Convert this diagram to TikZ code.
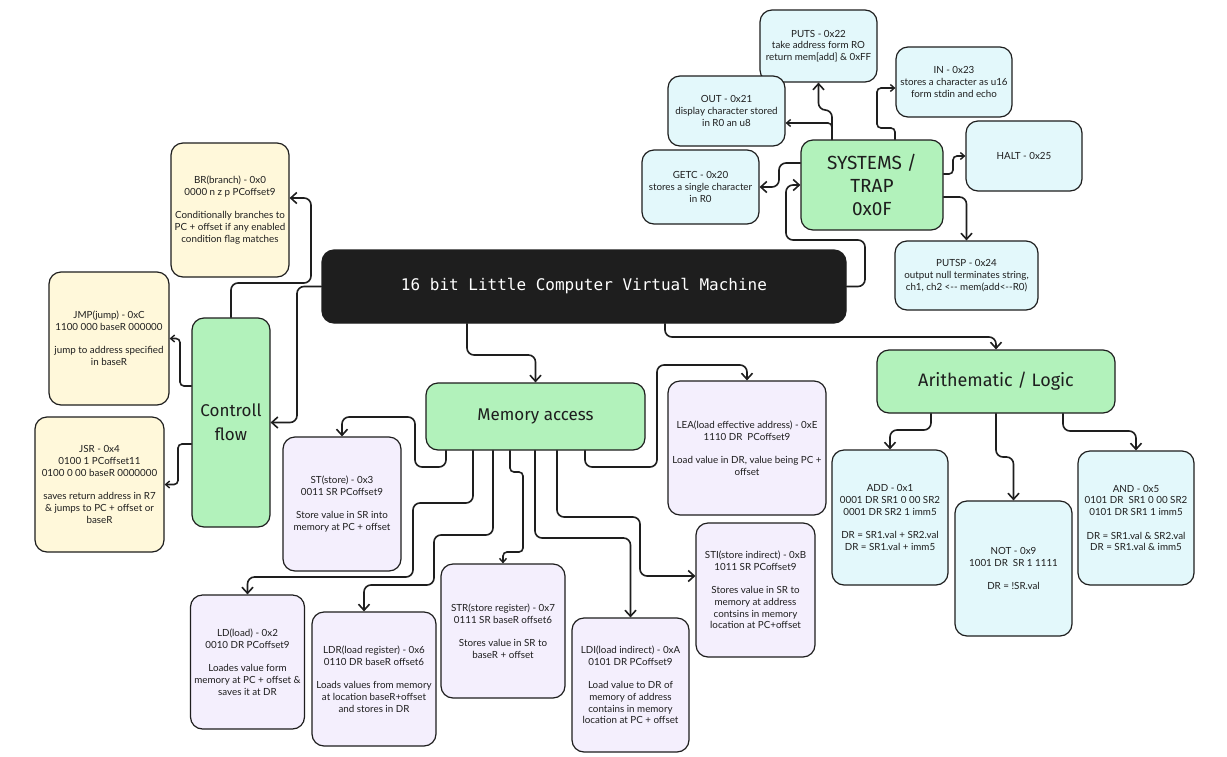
\documentclass[tikz,border=0pt]{standalone}
\usepackage{fontspec}
\setmainfont{Lato}
\newfontfamily\codefont{DejaVu Sans Mono}
\newfontfamily\handfont{Fira Sans}
\usetikzlibrary{arrows.meta}
\definecolor{ink}{HTML}{1E1E1E}
\definecolor{cyellow}{HTML}{FFF8DA}
\definecolor{cblue}{HTML}{E3F8FB}
\definecolor{cpurple}{HTML}{F4EFFD}
\definecolor{cgreen}{HTML}{B2F2BB}
\tikzset{
  box/.style={draw=ink, line width=1.2pt, rounded corners=12pt, align=center, text=ink,
    font=\fontsize{9.8}{11.7}\selectfont, inner sep=1pt},
  ybox/.style={box, fill=cyellow},
  bbox/.style={box, fill=cblue},
  pbox/.style={box, fill=cpurple},
  gbox/.style={box, fill=cgreen, font=\handfont\fontsize{17}{24}\selectfont},
  titlebox/.style={box, fill=ink, text=white, font=\codefont\fontsize{16}{20}\selectfont},
  conn/.style={draw=ink, line width=1.6pt, rounded corners=7pt, line cap=round,
    -{Straight Barb[length=6pt,width=11pt,line width=1.6pt]}},
  sconn/.style={conn, rounded corners=4pt, -{Straight Barb[length=4pt,width=7pt,line width=1.4pt]}}
}
\begin{document}
\begin{tikzpicture}[x=1pt,y=-1pt]
\path[fill=white] (0,0) rectangle (1227,756);
\useasboundingbox (0,0) rectangle (1227,756);

% main
\node[titlebox, minimum width=524pt, minimum height=73pt] (main) at (584,286.5) {16 bit Little Computer Virtual Machine};

% systems
\node[gbox, font=\handfont\fontsize{19}{23}\selectfont, minimum width=142pt, minimum height=90pt] (sys) at (872,185) {SYSTEMS /\\TRAP\\0x0F};
\node[bbox, minimum width=117pt, minimum height=72pt] (puts) at (818.5,46) {PUTS - 0x22\\take address form RO\\return mem[add] \& 0xFF};
\node[bbox, minimum width=117pt, minimum height=70pt] (out) at (726.5,111) {OUT - 0x21\\display character stored\\in R0 an u8};
\node[bbox, minimum width=117pt, minimum height=74pt] (getc) at (700.5,187) {GETC - 0x20\\stores a single character\\in R0};
\node[bbox, minimum width=116pt, minimum height=70pt] (in) at (954,82) {IN - 0x23\\stores a character as u16\\form stdin and echo};
\node[bbox, minimum width=116pt, minimum height=70pt] (halt) at (1024,156) {HALT - 0x25};
\node[bbox, minimum width=143pt, minimum height=69pt] (putsp) at (966.5,275.5) {PUTSP - 0x24\\output null terminates string,\\ch1, ch2 <-{}- mem(add<-{}-R0)};

% control flow
\node[gbox, minimum width=78pt, minimum height=209pt] (ctrl) at (231,422.5) {Controll\\flow};
\node[ybox, minimum width=118pt, minimum height=134pt] (br) at (230,210) {BR(branch) - 0x0\\0000 n z p PCoffset9\\[11.7pt]Conditionally branches to\\PC + offset if any enabled\\condition flag matches};
\node[ybox, minimum width=120pt, minimum height=133pt] (jmp) at (109,338.5) {JMP(jump) - 0xC\\1100 000 baseR 000000\\[11.7pt]jump to address specified\\in baseR};
\node[ybox, minimum width=129pt, minimum height=135pt] (jsr) at (99.5,484.5) {JSR - 0x4\\0100 1 PCoffset11\\0100 0 00 baseR 0000000\\[11.7pt]saves return address in R7\\\& jumps to PC + offset or\\baseR};

% memory access
\node[gbox, minimum width=219pt, minimum height=67pt] (mem) at (535.5,416.5) {Memory access};
\node[pbox, minimum width=118pt, minimum height=134pt] (st) at (342,504) {ST(store) - 0x3\\0011 SR PCoffset9\\[11.7pt]Store value in SR into\\memory at PC + offset};
\node[pbox, minimum width=158pt, minimum height=134pt] (lea) at (747,448) {LEA(load effective address) - 0xE\\1110 DR\ \ PCoffset9\\[11.7pt]Load value in DR, value being PC +\\offset};
\node[pbox, minimum width=119pt, minimum height=134pt] (sti) at (755.5,590) {STI(store indirect) - 0xB\\1011 SR PCoffset9\\[11.7pt]Stores value in SR to\\memory at address\\contsins in memory\\location at PC+offset};
\node[pbox, minimum width=114pt, minimum height=134pt] (ld) at (247.5,662) {LD(load) - 0x2\\0010 DR PCoffset9\\[11.7pt]Loades value form\\memory at PC + offset \&\\saves it at DR};
\node[pbox, minimum width=124pt, minimum height=134pt] (ldr) at (374,679) {LDR(load register) - 0x6\\0110 DR baseR offset6\\[11.7pt]Loads values from memory\\at location baseR+offset\\and stores in DR};
\node[pbox, minimum width=124pt, minimum height=134pt] (str) at (503,631) {STR(store register) - 0x7\\0111 SR baseR offset6\\[11.7pt]Stores value in SR to\\baseR + offset};
\node[pbox, minimum width=117pt, minimum height=134pt] (ldi) at (630.5,685) {LDI(load indirect) - 0xA\\0101 DR PCoffset9\\[11.7pt]Load value to DR of\\memory of address\\contains in memory\\location at PC + offset};

% arithmetic
\node[gbox, font=\handfont\fontsize{18}{24}\selectfont, minimum width=238pt, minimum height=63pt] (arith) at (996,381.5) {Arithematic / Logic};
\node[bbox, minimum width=116pt, minimum height=135pt] (add) at (890,517.5) {ADD - 0x1\\0001 DR SR1 0 00 SR2\\0001 DR SR2 1 imm5\\[11.7pt]DR = SR1.val + SR2.val\\DR = SR1.val + imm5};
\node[bbox, minimum width=117pt, minimum height=135pt] (notn) at (1013.5,568.5) {NOT - 0x9\\1001 DR\ \ SR 1 1111\\[11.7pt]DR = !SR.val};
\node[bbox, minimum width=116pt, minimum height=134pt] (andn) at (1136,518) {AND - 0x5\\0101 DR\ \ SR1 0 00 SR2\\0101 DR SR1 1 imm5\\[11.7pt]DR = SR1.val \& SR2.val\\DR = SR1.val \& imm5};

% connectors from main
\draw[conn] ([xshift=-117pt]main.south) |- (535.5,355) -- (mem.north);
\draw[conn] ([xshift=81pt]main.south) |- (996,337) -- (arith.north);
\draw[conn] (main.east) -- (865,286.5) |- (786,240) |- (sys.west);
\draw[conn] (main.west) -- (297,286.5) |- (ctrl.east);

% systems connectors
\draw[conn] ([yshift=22pt]sys.west) -- (779,163) |- (getc.east);
\draw[sconn] ([xshift=-40pt]sys.north) |- ([yshift=-12pt]out.east);
\draw[conn] ([xshift=-40pt]sys.north) |- (818.5,110) -- (puts.south);
\draw[sconn] ([xshift=23pt]sys.north) |- (877,128) |- ([yshift=-6pt]in.west);
\draw[sconn] ([yshift=11pt]sys.east) -- (953,174) |- (halt.west);
\draw[conn] ([yshift=-12pt]sys.east) -| (putsp.north);

% control flow connectors
\draw[conn] (ctrl.north) |- (311,283) |- ([yshift=12pt]br.east);
\draw[sconn] ([yshift=36.5pt]ctrl.west) -- (180,386) |- (jmp.east);
\draw[sconn] ([yshift=-21.5pt]ctrl.west) -- (178,444) |- (jsr.east);

% memory connectors
\draw[conn] ([xshift=-89.5pt]mem.south) |- (415,467) |- (342,417) -- (st.north);
\draw[conn] ([xshift=49.5pt]mem.south) |- (657,467) |- (747,365) -- (lea.north);
\draw[conn] ([xshift=-62.5pt]mem.south) |- (413,503) |- (247.5,577) -- (ld.north);
\draw[conn] ([xshift=-42.5pt]mem.south) |- (434,535) |- (364,585) -- ([xshift=-10pt]ldr.north);
\draw[sconn] ([xshift=-25.5pt]mem.south) |- (523,472) |- (503,552) -- (str.north);
\draw[conn] ([xshift=-0.5pt]mem.south) |- (630.5,538) -- (ldi.north);
\draw[conn] ([xshift=21.5pt]mem.south) |- (640,517) |- ([yshift=14pt]sti.west);

% arithmetic connectors
\draw[conn] ([xshift=-65pt]arith.south) |- (890,430) -- (add.north);
\draw[conn] (arith.south) |- (1013.5,457) -- (notn.north);
\draw[conn] ([xshift=67pt]arith.south) |- (1136,431) -- (andn.north);
\end{tikzpicture}
\end{document}
